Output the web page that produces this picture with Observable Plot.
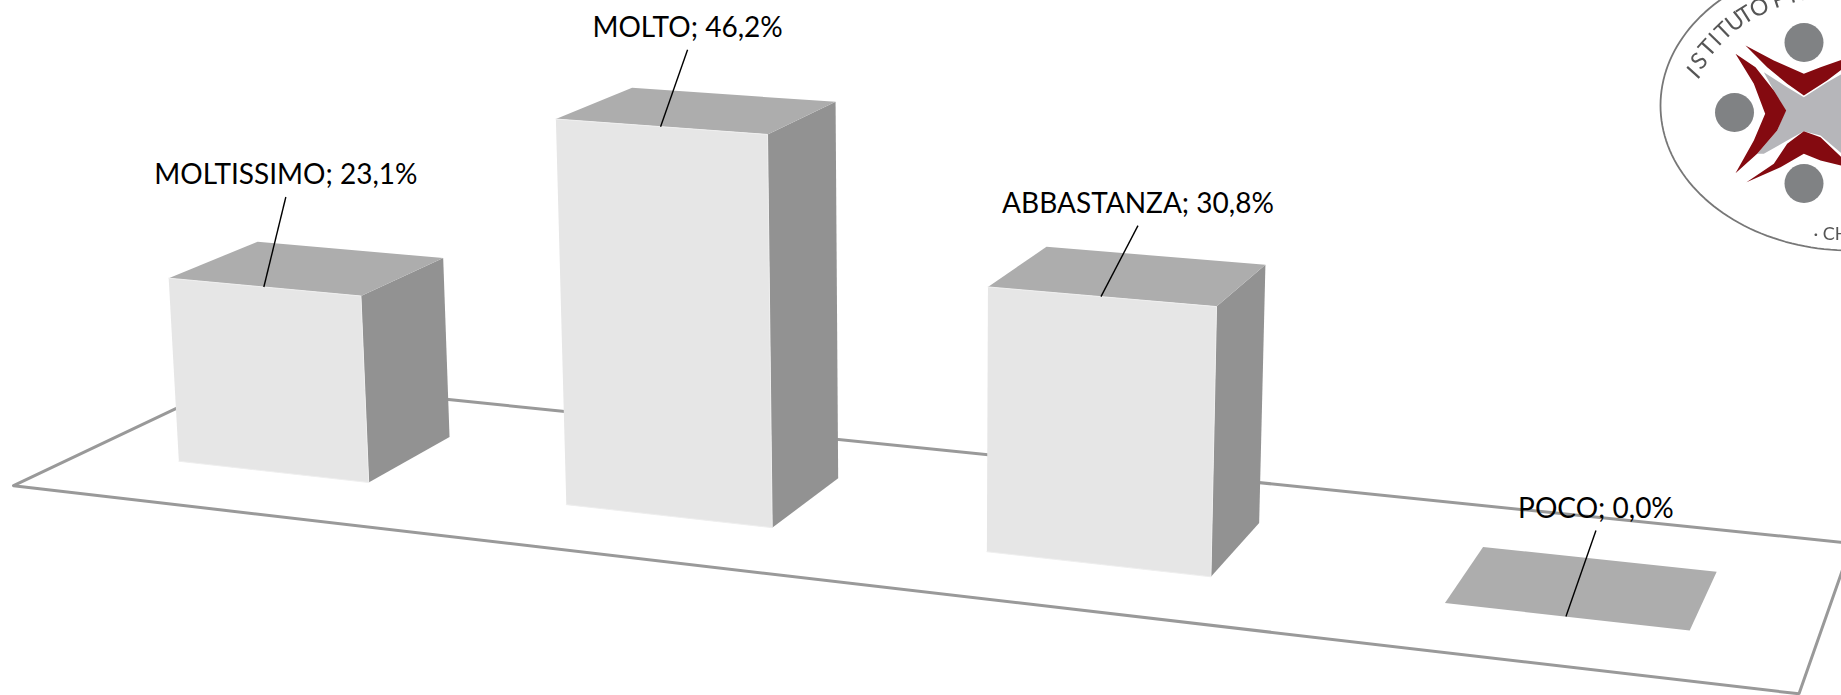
<!doctype html><html><head><meta charset="utf-8"><style>html,body{margin:0;background:#fff;overflow:hidden}svg{display:block}</style></head><body><div id="chart"></div>
<script src="https://cdn.jsdelivr.net/npm/d3@7"></script>
<script src="https://cdn.jsdelivr.net/npm/@observablehq/plot@0.6"></script>
<script>
// ---- chart data ----
const categories=["MOLTISSIMO","MOLTO","ABBASTANZA","POCO"];
const values=[23.1,46.2,30.8,0];
// ---- 3D view: category position, depth, value -> picture ----
const camera=[0.373887,0.253631,-0.000550730,0.0130590,0.0240937,-0.0648408,-0.00827924,0.485191,-0.0402968,0.113057,-0.000591037];
const gapX=0.25,gapD=0.3;
function view(X,D,Z){const p=camera,w=p[8]*X+p[9]*D+p[10]*Z+1;
  return {x:1000*(p[0]*X+p[1]*D+p[2]*Z+p[3])/w,y:1000*(p[4]*X+p[5]*D+p[6]*Z+p[7])/w};}
const quad=(key,pts)=>pts.map(q=>({key,...view(...q)}));
const floorLoop=quad("floor",[[0,0,0],[4,0,0],[4,1,0],[0,1,0],[0,0,0]]);
const fronts=[],tops=[],sides=[];
values.forEach((v,i)=>{const a=i+gapX,b=i+1-gapX,n=gapD,f=1-gapD;
  if(v>0){fronts.push(...quad("f"+i,[[a,n,v],[b,n,v],[b,n,0],[a,n,0]]));
    sides.push(...quad("s"+i,[[b,n,v],[b,f,v],[b,f,0],[b,n,0]]));}
  tops.push(...quad("t"+i,[[a,n,v],[b,n,v],[b,f,v],[a,f,v]]));});
// label leaders
const leaderDx=[22,27,37,30],leaderDy=[-90,-77,-71,-86];
const labels=categories.map((c,i)=>{const o=view(i+.5,gapD,values[i]);
  return {text:`${c}; ${values[i].toFixed(1).replace(".",",")}%`,x1:o.x,y1:o.y,x2:o.x+leaderDx[i],y2:o.y+leaderDy[i]};});
// ---- logo (decoration, cropped by the picture edge) ----
const Z=(key,a)=>a.map(([x,y])=>({key,x:1640+x/3,y:y/3}));
const logoRing=d3.range(0,361,2).map(t=>({x:1850+190*Math.cos(t*Math.PI/180),y:105+145*Math.sin(t*Math.PI/180)}));
const logoGrey=Z("g",[[370,215],[440,260],[490,290],[560,245],[640,200],[640,490],[540,405],[490,392],[440,420],[370,460],[350,460],[410,390],[435,330],[400,270]]);
const logoRed=[
 ...Z("l",[[285,160],[345,200],[400,270],[437,330],[410,390],[350,460],[285,518],[340,420],[374,340],[340,250]]),
 ...Z("t",[[315,135],[400,180],[490,220],[540,200],[640,165],[640,180],[560,240],[490,285],[440,250],[380,200]]),
 ...Z("b",[[318,545],[400,490],[440,430],[490,392],[540,410],[603,470],[640,505],[540,480],[490,460],[420,500]])];
const logoDots=[{x:1803.5,y:42},{x:1803.5,y:183},{x:1734,y:112}];
const logoLetters=["I","S","T","I","T","U","T","O","P","I","E"];
const logoAngles=[16,22,29,34,39,45,50,56,64,69,74];
const logoRotate=[-48,-48,-48,-46,-44,-38,-32,-24,-18,-14,-12];
const logoText=logoLetters.map((t,i)=>{const a=logoAngles[i]*Math.PI/180;return {t,r:logoRotate[i],x:1850-163*Math.cos(a),y:105-118*Math.sin(a)};});
const soft="blur(0.6px)",logoSoft="blur(0.7px)";
const chart=Plot.plot({width:1841,height:695,margin:0,
 x:{domain:[0,1841],range:[0,1841],axis:null},y:{domain:[0,695],range:[0,695],axis:null},
 marks:[
  Plot.line(logoRing,{x:"x",y:"y",stroke:"#777",strokeWidth:1.8,imageFilter:logoSoft}),
  Plot.line(logoGrey,{x:"x",y:"y",z:"key",fill:"#b6b6ba",imageFilter:logoSoft}),
  Plot.line(logoRed,{x:"x",y:"y",z:"key",fill:"#840a10",imageFilter:logoSoft}),
  Plot.dot(logoDots,{x:"x",y:"y",r:19.5,fill:"#808284",imageFilter:logoSoft}),
  Plot.text(logoText,{x:"x",y:"y",text:"t",rotate:"r",fontSize:23,fontFamily:"Lato",fill:"#555",imageFilter:"blur(0.4px)"}),
  Plot.text(["· CH"],{x:()=>1813,y:()=>234,text:d=>d,textAnchor:"start",fontSize:18,fontFamily:"Lato",fill:"#555",imageFilter:"blur(0.4px)"}),
  Plot.line(floorLoop,{x:"x",y:"y",z:"key",fill:"#fff",stroke:"#999",strokeWidth:3,strokeLinejoin:"miter",imageFilter:soft}),
  Plot.line(sides,{x:"x",y:"y",z:"key",fill:"#929292",imageFilter:soft}),
  Plot.line(tops,{x:"x",y:"y",z:"key",fill:"#adadad",imageFilter:soft}),
  Plot.line(fronts,{x:"x",y:"y",z:"key",fill:"#e6e6e6",stroke:"#efefef",strokeWidth:1,imageFilter:soft}),
  Plot.link(labels,{x1:"x1",y1:"y1",x2:"x2",y2:"y2",stroke:"#000",strokeWidth:1.4}),
  Plot.text(labels,{x:"x2",y:d=>d.y2-21.5,text:"text",fontFamily:"Lato",fontSize:28,fill:"#000"})
 ]});
document.getElementById("chart").append(chart);
</script></body></html>
